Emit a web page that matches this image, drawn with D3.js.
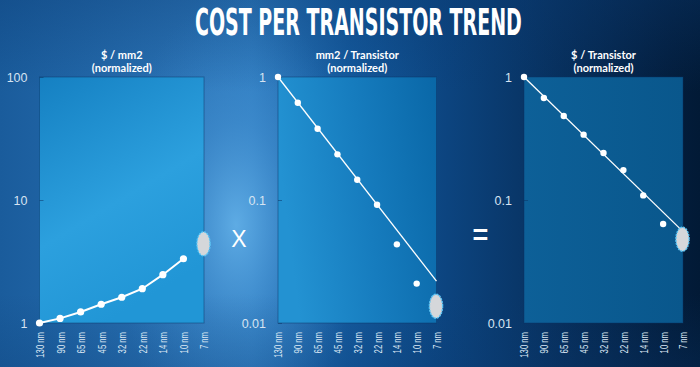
<!DOCTYPE html>
<html>
<head>
<meta charset="utf-8">
<script src="https://cdn.jsdelivr.net/npm/d3@7/dist/d3.min.js"></script>
<style>
  html, body { margin: 0; padding: 0; background: #0a3a70; }
  svg { display: block; }
</style>
</head>
<body>
<svg id="chart" width="700" height="367"></svg>
<script>
// ---- data ----
const nodes = ["130 nm", "90 nm", "65 nm", "45 nm", "32 nm", "22 nm", "14 nm", "10 nm", "7 nm"];
const measuredNodes = ["130 nm", "90 nm", "65 nm", "45 nm", "32 nm", "22 nm", "14 nm", "10 nm"];

const costPerArea = [1, 1.09, 1.23, 1.42, 1.62, 1.90, 2.47, 3.33];
const costPerArea7 = 4.4;

const areaPerTransistor = [1, 0.618, 0.380, 0.235, 0.146, 0.0916, 0.0436, 0.0209];
const areaPerTransistor7 = 0.0137;
const areaTrend = [1, 0.0219];            // trend line at 130 nm and 7 nm

const costPerTransistor = [1, 0.675, 0.482, 0.34, 0.241, 0.175, 0.109, 0.0638];
const costPerTransistor7 = 0.048;
const costTrend = [1, 0.058];

const ticksA = [1, 10, 100];
const tickLabelsA = ["1", "10", "100"];
const ticksB = [0.01, 0.1, 1];
const tickLabelsB = ["0.01", "0.1", "1"];

const title = "COST PER TRANSISTOR TREND";
const subtitles = [["$ / mm2", "(normalized)"], ["mm2 / Transistor", "(normalized)"], ["$ / Transistor", "(normalized)"]];

// ---- drawing ----
(function () {
const svg = d3.select("#chart");
const W = 700, H = 367;
const defs = svg.append("defs");

function linGrad(id, x1, y1, x2, y2, stops) {
  const g = defs.append("linearGradient").attr("id", id)
    .attr("x1", x1).attr("y1", y1).attr("x2", x2).attr("y2", y2);
  stops.forEach(s => g.append("stop").attr("offset", s[0]).attr("stop-color", s[1]).attr("stop-opacity", s[2] == null ? 1 : s[2]));
  return g;
}
linGrad("bgH", "0", "0", "1", "0", [
  [0, "#1a5c9c"], [0.25, "#2a72b4"], [0.36, "#2f7cc0"], [0.5, "#14599c"],
  [0.64, "#0c447f"], [0.8, "#072f5c"], [0.96, "#031d3c"], [1, "#021a36"]
]);
const rg = defs.append("radialGradient").attr("id", "glow")
  .attr("gradientUnits", "userSpaceOnUse").attr("cx", 236).attr("cy", 225).attr("r", 160)
  .attr("gradientTransform", "translate(236,225) scale(0.75,1.45) translate(-236,-225)");
rg.append("stop").attr("offset", 0).attr("stop-color", "#6ab8ee").attr("stop-opacity", 0.8);
rg.append("stop").attr("offset", 0.45).attr("stop-color", "#4a98d8").attr("stop-opacity", 0.45);
rg.append("stop").attr("offset", 1).attr("stop-color", "#3a88cc").attr("stop-opacity", 0);
linGrad("topDark", "0", "0", "0", "1", [[0, "#0a3a72", 0.35], [0.25, "#0a3a72", 0], [0.8, "#0a3a72", 0], [1, "#0a3a72", 0.25]]);

linGrad("p1", "0", "0", "0.4", "1", [[0, "#1580c2"], [0.6, "#2ca0de"], [1, "#2196d6"]]);
linGrad("p2", "0", "0.3", "1", "0.1", [[0, "#2392d2"], [0.5, "#167cbe"], [1, "#0a68a8"]]);
linGrad("p3", "0", "0", "1", "0", [[0, "#0d6098"], [1, "#09578c"]]);

svg.append("rect").attr("width", W).attr("height", H).attr("fill", "url(#bgH)");
svg.append("rect").attr("width", W).attr("height", H).attr("fill", "url(#glow)");
svg.append("rect").attr("width", W).attr("height", H).attr("fill", "url(#topDark)");

// title (condensed by horizontal scaling to fit the reference width)
const tg = svg.append("g");
const tt = tg.append("text")
  .attr("x", 0).attr("y", 0)
  .attr("font-family", "'DejaVu Sans Condensed', 'DejaVu Sans', sans-serif")
  .attr("font-weight", "bold").attr("font-size", 38)
  .attr("fill", "#ffffff").text(title);
const natural = tt.node().getComputedTextLength();
tg.attr("transform", `translate(195,35) scale(${327 / natural},1)`);

const plotTop = 77, plotBottom = 323;
const panels = [
  { x0: 39.5, x1: 204, fill: "url(#p1)", domain: [1, 100], ticks: ticksA, labels: tickLabelsA,
    values: costPerArea, est: costPerArea7, trend: null, sub: subtitles[0], r: 3.6, lw: 2 },
  { x0: 278, x1: 436.5, fill: "url(#p2)", domain: [0.01, 1], ticks: ticksB, labels: tickLabelsB,
    values: areaPerTransistor, est: areaPerTransistor7, trend: areaTrend, sub: subtitles[1], r: 3.2, lw: 1.3 },
  { x0: 524, x1: 683, fill: "url(#p3)", domain: [0.01, 1], ticks: ticksB, labels: tickLabelsB,
    values: costPerTransistor, est: costPerTransistor7, trend: costTrend, sub: subtitles[2], r: 3.2, lw: 1.3 }
];

panels.forEach((p, i) => {
  const x = d3.scalePoint().domain(nodes).range([p.x0, p.x1]).padding(0);
  const y = d3.scaleLog().domain(p.domain).range([plotBottom, plotTop]);
  const g = svg.append("g");

  g.append("rect").attr("x", x(nodes[0])).attr("y", y(p.domain[1]))
    .attr("width", x(nodes[nodes.length - 1]) - x(nodes[0])).attr("height", y(p.domain[0]) - y(p.domain[1]))
    .attr("fill", p.fill).attr("stroke", "rgba(10,50,100,0.45)").attr("stroke-width", 1);

  // subtitles
  const cx = (p.x0 + p.x1) / 2;
  p.sub.forEach((s, k) => {
    g.append("text").attr("x", cx).attr("y", 59 + k * 13)
      .attr("text-anchor", "middle").attr("font-family", "Lato, 'Open Sans', sans-serif")
      .attr("font-weight", "bold").attr("font-size", 11).attr("fill", "#ffffff").text(s);
  });

  // y axis
  const ya = g.append("g").attr("transform", `translate(${x(nodes[0])},0)`)
    .call(d3.axisLeft(y).tickValues(p.ticks).tickFormat((d, j) => p.labels[j]).tickSize(-4).tickPadding(12));
  ya.select(".domain").remove();
  ya.selectAll("line").attr("stroke", "rgba(10,50,100,0.5)");
  ya.selectAll("text").attr("font-family", "'Liberation Sans', Arial, sans-serif")
    .attr("font-size", 12.5).attr("fill", "#d6e4f2");

  // x axis
  const xa = g.append("g").attr("transform", `translate(0,${plotBottom})`)
    .call(d3.axisBottom(x).tickSize(0));
  xa.select(".domain").remove();
  xa.selectAll("text")
    .attr("font-family", "'Liberation Sans', Arial, sans-serif").attr("font-size", 11)
    .attr("fill", "#dce8f4").attr("text-anchor", "end")
    .attr("transform", "rotate(-90) scale(0.7,1)")
    .attr("x", -9 / 0.7).attr("y", 0).attr("dy", "0.36em");

  // lines
  if (p.trend) {
    g.append("line")
      .attr("x1", x(nodes[0])).attr("y1", y(p.trend[0]))
      .attr("x2", x(nodes[nodes.length - 1]) - (i === 2 ? 2.5 : 0)).attr("y2", y(p.trend[1]))
      .attr("stroke", "#ffffff").attr("stroke-width", p.lw);
  } else {
    const line = d3.line().x((d, j) => x(measuredNodes[j])).y(d => y(d));
    g.append("path").attr("d", line(p.values)).attr("fill", "none")
      .attr("stroke", "#ffffff").attr("stroke-width", p.lw);
  }

  // points
  g.selectAll("circle.pt").data(p.values).enter().append("circle").attr("class", "pt")
    .attr("cx", (d, j) => x(measuredNodes[j])).attr("cy", d => y(d))
    .attr("r", p.r).attr("fill", "#ffffff");

  // 7 nm estimate
  g.append("ellipse").attr("cx", x("7 nm") - 0.5).attr("cy", y(p.est))
    .attr("rx", 6.6).attr("ry", 12)
    .attr("fill", "#d5d7da").attr("stroke", "#5cc6f6").attr("stroke-width", 1.4)
    .attr("stroke-dasharray", "2,1");
});

// operators
svg.append("text").attr("x", 239).attr("y", 246.5).attr("text-anchor", "middle")
  .attr("font-family", "'Liberation Sans', Arial, sans-serif").attr("font-size", 23)
  .attr("fill", "#ffffff").text("X");
svg.append("text").attr("x", 480.5).attr("y", 243.5).attr("text-anchor", "middle")
  .attr("font-family", "'Liberation Sans', Arial, sans-serif").attr("font-weight", "bold").attr("font-size", 27)
  .attr("fill", "#ffffff").text("=");
})();
</script>
</body>
</html>
